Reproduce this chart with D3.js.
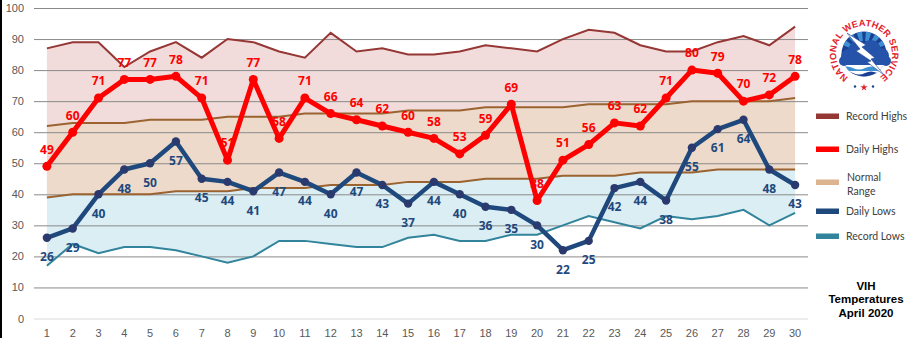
<!DOCTYPE html>
<html><head><meta charset="utf-8">
<script src="https://cdn.jsdelivr.net/npm/d3@7"></script>
<style>body{margin:0;background:#fff;} svg{display:block}</style>
</head><body><svg id="c" width="915" height="338"></svg>
<script>
const days = [1,2,3,4,5,6,7,8,9,10,11,12,13,14,15,16,17,18,19,20,21,22,23,24,25,26,27,28,29,30];
const recordHighs = [87,89,89,81,86,89,84,90,89,86,84,92,86,87,85,85,86,88,87,86,90,93,92,88,86,86,89,91,88,94];
const normalHighs = [62,63,63,63,64,64,64,65,65,65,66,66,66,66,67,67,67,68,68,68,68,69,69,69,69,70,70,70,70,71];
const normalLows  = [39,40,40,40,40,41,41,41,42,42,42,43,43,43,44,44,44,45,45,45,46,46,46,47,47,47,48,48,48,48];
const recordLows  = [17,24,21,23,23,22,20,18,20,25,25,24,23,23,26,27,25,25,27,27,30,33,31,29,33,32,33,35,30,34];
const dailyHighs  = [49,60,71,77,77,78,71,51,77,58,71,66,64,62,60,58,53,59,69,38,51,56,63,62,71,80,79,70,72,78];
const dailyLows   = [26,29,40,48,50,57,45,44,41,47,44,40,47,43,37,44,40,36,35,30,22,25,42,44,38,55,61,64,48,43];
const yTicks = [0,10,20,30,40,50,60,70,80,90,100];
const legendItems = [
  {name:["Record Highs"], color:"#953735"},
  {name:["Daily Highs"], color:"#ff0000"},
  {name:["Normal","Range"], color:"#dcb48f"},
  {name:["Daily Lows"], color:"#1f497d"},
  {name:["Record Lows"], color:"#31849b"}
];
const titleLines = ["VIH","Temperatures","April 2020"];

const svg = d3.select("#c");
const x = d3.scaleBand().domain(days).range([34,808]);
const cx = d => x(d) + x.bandwidth()/2;
const y = d3.scaleLinear().domain([0,100]).range([318.5,8]);

const rows = days.map((d,i)=>({d, rh:recordHighs[i], nh:normalHighs[i], nl:normalLows[i], rl:recordLows[i], hi:dailyHighs[i], lo:dailyLows[i]}));

// left border
svg.append("rect").attr("x",0).attr("y",0).attr("width",2).attr("height",338).attr("fill","#000");

// areas
const area = (a,b)=>d3.area().x(r=>cx(r.d)).y0(r=>y(r[b])).y1(r=>y(r[a]));
svg.append("path").datum(rows).attr("d",area("rh","nh")).attr("fill","#f2dcdb");
svg.append("path").datum(rows).attr("d",area("nh","nl")).attr("fill","#eddaca");
svg.append("path").datum(rows).attr("d",area("nl","rl")).attr("fill","#dbeef4");

// y axis + gridlines
const ya = svg.append("g").attr("transform","translate(34,0)")
  .call(d3.axisLeft(y).tickValues(yTicks).tickSize(-774).tickPadding(10).tickFormat(d3.format("d")));
ya.select(".domain").remove();
ya.selectAll(".tick line").attr("stroke", d=> d===0 ? "#d9d9d9" : "#8a8a8a").attr("stroke-width",1);
ya.selectAll(".tick text").attr("fill","#595959").attr("font-size","11px").attr("font-family","Liberation Sans, Arial, sans-serif");

// x axis
const xa = svg.append("g").attr("transform","translate(0,318.5)")
  .call(d3.axisBottom(x).tickSize(0).tickPadding(11));
xa.select(".domain").remove();
xa.selectAll(".tick text").attr("fill","#595959").attr("font-size","11px").attr("font-family","Liberation Sans, Arial, sans-serif");

// thin lines
const line = k => d3.line().x(r=>cx(r.d)).y(r=>y(r[k]));
svg.append("path").datum(rows).attr("d",line("rh")).attr("fill","none").attr("stroke","#953735").attr("stroke-width",2);
svg.append("path").datum(rows).attr("d",line("nh")).attr("fill","none").attr("stroke","#9a6330").attr("stroke-width",2);
svg.append("path").datum(rows).attr("d",line("nl")).attr("fill","none").attr("stroke","#9a6330").attr("stroke-width",2);
svg.append("path").datum(rows).attr("d",line("rl")).attr("fill","none").attr("stroke","#31849b").attr("stroke-width",2);

// daily highs
svg.append("path").datum(rows).attr("d",line("hi")).attr("fill","none").attr("stroke","#ff0000").attr("stroke-width",5).attr("stroke-linejoin","round");
svg.selectAll(".mh").data(rows).join("circle").attr("cx",r=>cx(r.d)).attr("cy",r=>y(r.hi)).attr("r",4.5).attr("fill","#ff0000");
// daily lows
svg.append("path").datum(rows).attr("d",line("lo")).attr("fill","none").attr("stroke","#1f497d").attr("stroke-width",4.5).attr("stroke-linejoin","round");
svg.selectAll(".ml").data(rows).join("circle").attr("cx",r=>cx(r.d)).attr("cy",r=>y(r.lo)).attr("r",4.2).attr("fill","#2b3a6e");

// labels
const lf = "Open Sans, Liberation Sans, sans-serif";
svg.selectAll(".lh").data(rows).join("text").attr("x",r=>cx(r.d)).attr("y",r=>y(r.hi)-17)
  .attr("dy","0.36em").attr("text-anchor","middle").attr("font-family",lf).attr("font-weight","bold").attr("font-size","12px")
  .attr("fill","#ff0000").text(r=>r.hi);
svg.selectAll(".ll").data(rows).join("text").attr("x",r=>cx(r.d)).attr("y",r=>y(r.lo)+19)
  .attr("dy","0.36em").attr("text-anchor","middle").attr("font-family",lf).attr("font-weight","bold").attr("font-size","12px")
  .attr("fill","#1f497d").text(r=>r.lo);

// legend
const legY = [116,149,182,211,236];
const lg = svg.append("g");
legendItems.forEach((it,i)=>{
  const yy = legY[i];
  lg.append("rect").attr("x",816).attr("y",yy-2.5).attr("width",23).attr("height",5.5).attr("fill",it.color);
  const t = lg.append("text").attr("font-family","Lato, Open Sans, sans-serif").attr("font-size","10.5px").attr("fill","#404040");
  if (it.name.length===1) {
    t.append("tspan").attr("x",846).attr("y",yy).attr("dy","0.35em").text(it.name[0]);
  } else {
    t.append("tspan").attr("x",847).attr("y",yy-4.5).attr("dy","0.35em").text(it.name[0]);
    t.append("tspan").attr("x",847).attr("y",yy+9).attr("dy","0.35em").text(it.name[1]);
  }
});

// title
const tt = svg.append("text").attr("text-anchor","middle").attr("font-family","Liberation Sans, Arial, sans-serif")
  .attr("font-weight","bold").attr("font-size","11.5px").attr("fill","#000");
titleLines.forEach((s,i)=>tt.append("tspan").attr("x",866).attr("y",290+i*13.3).text(s));

// NWS logo
const L = svg.append("g").attr("transform","translate(864,54)");
L.append("circle").attr("r",37).attr("fill","#fff");
const rr = 28;
const ang = a => [rr*Math.sin(a*Math.PI/180), -rr*Math.cos(a*Math.PI/180)];
const defs = svg.append("defs");
defs.append("path").attr("id","ring").attr("d",`M${ang(-152)} A${rr},${rr} 0 1 1 ${ang(152)}`);
defs.append("clipPath").attr("id","disc").append("circle").attr("r",22.5);
L.append("text").attr("font-family","Liberation Sans, Arial, sans-serif").attr("font-weight","bold").attr("font-size","9.2px")
  .attr("fill","#e3202b").attr("letter-spacing","0.2")
  .append("textPath").attr("href","#ring").attr("startOffset","50%").attr("text-anchor","middle").text("NATIONAL WEATHER SERVICE");
L.append("circle").attr("r",22.5).attr("fill","#1b3f93");
const D = L.append("g").attr("clip-path","url(#disc)");
[-60,-36,-12,12,36,60].forEach(a=>{
  const a1=(a-7)*Math.PI/180, a2=(a+7)*Math.PI/180;
  D.append("path").attr("d",`M${13*Math.sin(a1)},${-13*Math.cos(a1)} L${25*Math.sin(a1)},${-25*Math.cos(a1)} L${25*Math.sin(a2)},${-25*Math.cos(a2)} L${13*Math.sin(a2)},${-13*Math.cos(a2)}Z`).attr("fill","#3d8fd1");
});
// waves
D.append("rect").attr("x",-23).attr("y",10).attr("width",46).attr("height",15).attr("fill","#fff");
D.append("path").attr("d","M-23,14 Q-17,11 -11,14 T1,14 T13,14 T25,14 L25,17 L-23,17Z").attr("fill","#3d8fd1");
D.append("path").attr("d","M-23,19 Q-17,16 -11,19 T1,19 T13,19 T25,19 L25,25 L-23,25Z").attr("fill","#1b3f93");
// cloud
const cloud = L.append("g").attr("fill","#2553aa");
[[-15,3,8],[-6,-3,10],[7,-4,10],[17,2,8],[-20,7,5],[22,7,5]].forEach(c=>cloud.append("circle").attr("cx",c[0]).attr("cy",c[1]).attr("r",c[2]));
cloud.append("rect").attr("x",-24).attr("y",3).attr("width",50).attr("height",8).attr("rx",4);
// lightning
L.append("path").attr("d","M-17,-21 L2,-9 L-2,-7 L11,4 L7,5 L20,21 L3,8 L7,7 L-8,-3 L-4,-5Z")
  .attr("fill","#fff").attr("stroke","#1b3f93").attr("stroke-width",0.6);
// stars
L.append("circle").attr("cx",-9).attr("cy",32.5).attr("r",1.2).attr("fill","#1b3f93");
L.append("circle").attr("cx",9).attr("cy",32.5).attr("r",1.2).attr("fill","#1b3f93");
L.append("path").attr("d",d3.symbol(d3.symbolStar,16)()).attr("transform","translate(0,33.5)").attr("fill","#e3202b");
</script></body></html>
